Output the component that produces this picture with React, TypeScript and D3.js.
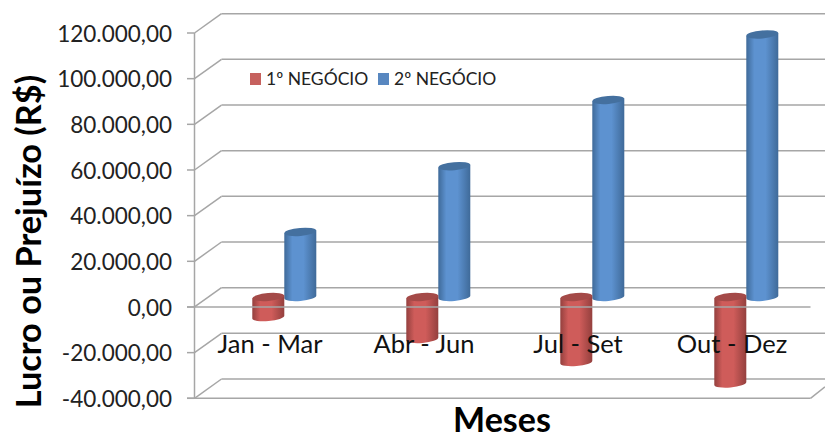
import React from "react";
import * as d3 from "d3";

const categories = ["Jan - Mar", "Abr - Jun", "Jul - Set", "Out - Dez"];
const negocio1 = [-8800, -18400, -28500, -37900];
const negocio2 = [28500, 57300, 86300, 115000];
const yTicks = [-40000, -20000, 0, 20000, 40000, 60000, 80000, 100000, 120000];
const seriesNames = ["1º NEGÓCIO", "2º NEGÓCIO"];

const FONT = "Lato, 'Open Sans', sans-serif";
const fmt = (v: number) =>
  (v < 0 ? "-" : "") + d3.format(",")(Math.abs(v)).replace(/,/g, ".") + ",00";

const y = d3.scaleLinear().domain([-40000, 120000]).range([398.3, 33]);
const x = d3.scaleBand<string>().domain(categories).range([194.5, 810.5]);
const DX = 27, DY = -19.3;     // wall depth
const BDX = 12.8, BDY = -10;   // bar plane depth
const BW = 32, RY = 4, ROT = -5;
const TILT = (BW / 2) * Math.sin((ROT * Math.PI) / 180);
const GRID = "#a6a6a6";

const palette = {
  red: { id: "gRed", edge: "#94403e", mid: "#cf5c5a", top: "#a44a48" },
  blue: { id: "gBlue", edge: "#3f6a99", mid: "#5d92d0", top: "#44709f" },
};

function Cyl({ cx, v, c }: { cx: number; v: number; c: typeof palette.red }) {
  const y0 = y(0) + BDY;
  const y1 = y(v) + BDY;
  const top = Math.min(y0, y1);
  const bot = Math.max(y0, y1);
  const xl = cx - BW / 2, xr = cx + BW / 2;
  const side = `M${xl},${top - TILT} L${xl},${bot - TILT} A${BW / 2},${RY} ${ROT} 0 0 ${xr},${bot + TILT} L${xr},${top + TILT} Z`;
  return (
    <g>
      <path d={side} fill={`url(#${c.id})`} />
      <ellipse cx={cx} cy={top} rx={BW / 2} ry={RY} fill={c.top} transform={`rotate(${ROT} ${cx} ${top})`} />
    </g>
  );
}

export default function App() {
  const bw = x.step();
  return (
    <svg width={825} height={439} style={{ position: "absolute", left: 0, top: 0, background: "#fff" }}>
      <defs>
        {Object.values(palette).map((c) => (
          <linearGradient key={c.id} id={c.id} x1="0" x2="1" y1="0" y2="0">
            <stop offset="0" stopColor={c.edge} />
            <stop offset="0.25" stopColor={c.mid} />
            <stop offset="0.6" stopColor={c.mid} />
            <stop offset="1" stopColor={c.edge} />
          </linearGradient>
        ))}
      </defs>

      {/* back wall and side wall */}
      {yTicks.map((t) => (
        <g key={t} stroke={GRID} strokeWidth={1.5} fill="none">
          <line x1={194.5 + DX} x2={825} y1={y(t) + DY} y2={y(t) + DY} />
          <line x1={194.5} x2={194.5 + DX} y1={y(t)} y2={y(t) + DY} />
          <line x1={187} x2={194.5} y1={y(t)} y2={y(t)} />
        </g>
      ))}
      <line x1={194.5} x2={194.5} y1={y(120000)} y2={y(-40000)} stroke={GRID} strokeWidth={1.5} />
      <line x1={187} x2={810.5} y1={y(-40000)} y2={y(-40000)} stroke={GRID} strokeWidth={1.5} />
      <line x1={810.5} x2={825} y1={y(-40000)} y2={y(-40000) - 11.5} stroke={GRID} strokeWidth={1.5} />

      {/* bars */}
      {categories.map((cat, i) => {
        const c = x(cat)! + bw / 2 + BDX;
        return (
          <g key={cat}>
            <Cyl cx={c + BW / 2} v={negocio2[i]} c={palette.blue} />
            <Cyl cx={c - BW / 2} v={negocio1[i]} c={palette.red} />
          </g>
        );
      })}

      <line x1={187} x2={810.5} y1={y(0)} y2={y(0)} stroke={GRID} strokeWidth={1.5} />

      {/* y tick labels */}
      {yTicks.map((t) => (
        <text key={t} x={172} y={y(t) + 8.6} textAnchor="end" fontFamily={FONT} fontSize={22.5} fill="#222">
          {fmt(t)}
        </text>
      ))}

      {/* category labels */}
      {categories.map((cat) => (
        <text key={cat} x={x(cat)! + bw / 2 - 1.5} y={353} textAnchor="middle" fontFamily={FONT} fontSize={25.5} fill="#111">
          {cat}
        </text>
      ))}

      {/* legend */}
      <rect x={250} y={73} width={11} height={12} fill="#c0504d" opacity={0.9} />
      <text x={266} y={85} fontFamily={FONT} fontSize={17.5} fill="#222">{seriesNames[0]}</text>
      <rect x={378} y={73} width={11} height={12} fill="#4f81bd" opacity={0.95} />
      <text x={394} y={85} fontFamily={FONT} fontSize={17.5} fill="#222">{seriesNames[1]}</text>

      {/* axis titles */}
      <text transform="translate(41,241.5) rotate(-90)" textAnchor="middle" fontFamily={FONT} fontWeight={700} fontSize={34.3} fill="#000">
        Lucro ou Prejuízo (R$)
      </text>
      <text x={502} y={432} textAnchor="middle" fontFamily={FONT} fontWeight={700} fontSize={34} fill="#000">
        Meses
      </text>
    </svg>
  );
}
